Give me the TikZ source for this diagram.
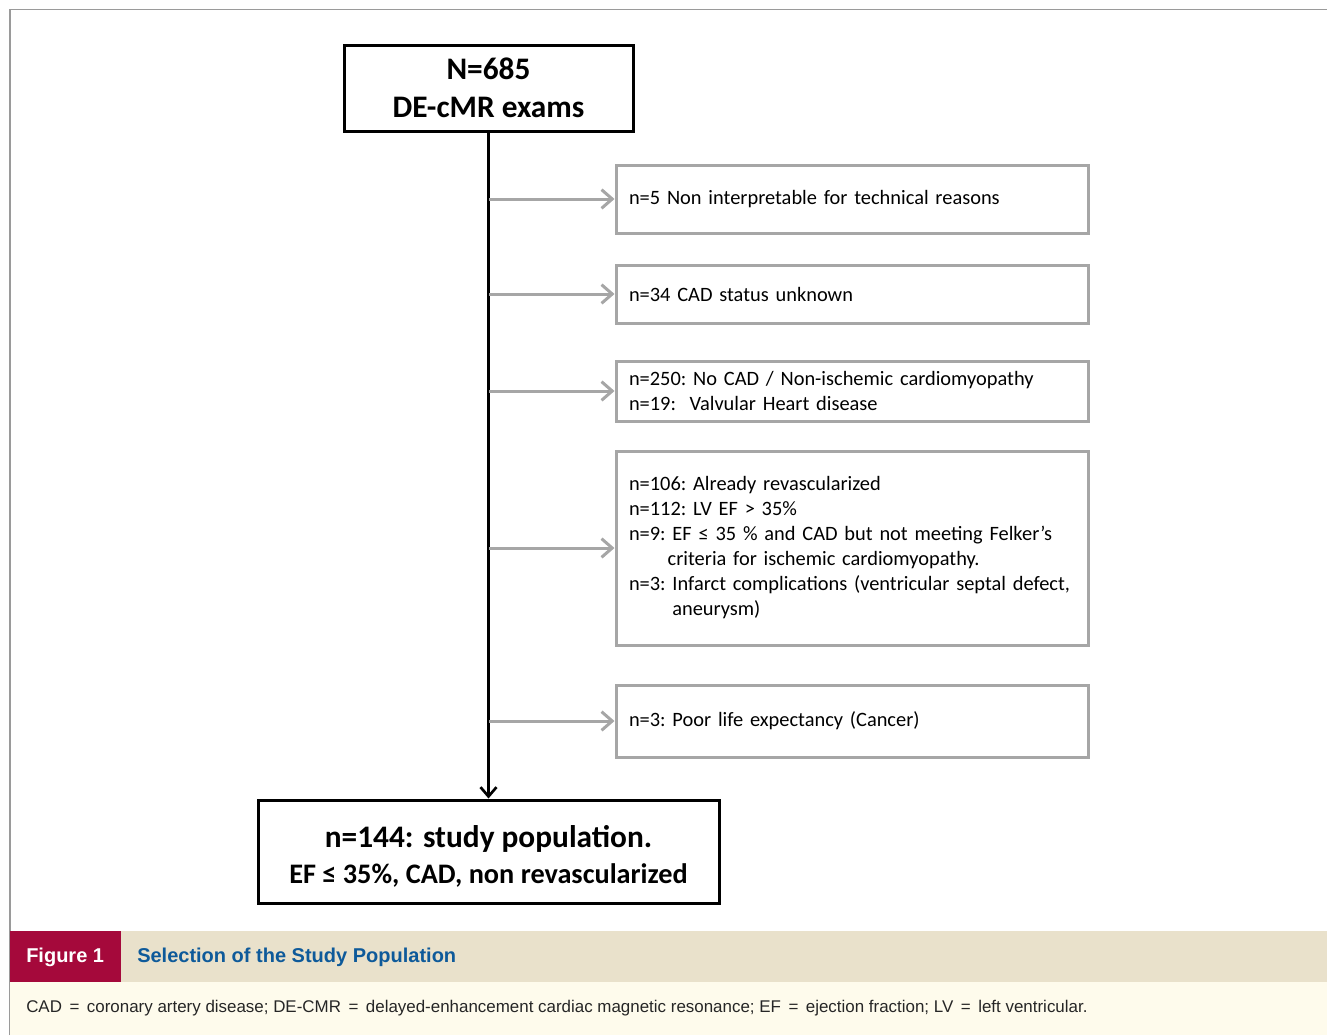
\documentclass[tikz,border=0pt]{standalone}
\usepackage{fontspec}
\setmainfont{Carlito}
\newfontfamily\capfont{Liberation Sans}
\usetikzlibrary{arrows.meta}
\definecolor{boxgray}{HTML}{A6A6A6}
\definecolor{framegray}{HTML}{9A9A9A}
\definecolor{figred}{HTML}{A5093B}
\definecolor{figblue}{HTML}{0E5A9A}
\definecolor{bandbeige}{HTML}{E9E1CB}
\definecolor{bandcream}{HTML}{FEFBEC}
\tikzset{
  mainbox/.style={draw=black, line width=2.25pt, align=center, inner sep=0pt},
  excl/.style={draw=boxgray, line width=2.25pt, minimum width=354pt, text width=334.5pt,
    align=left, inner xsep=9.75pt, inner ysep=0pt, font=\frenchspacing\fontsize{15.3}{18.75}\selectfont},
  flow/.style={line width=2.25pt, -{Straight Barb[length=7pt,width=12pt,line width=2pt]}},
  side/.style={draw=boxgray, line width=2.25pt, -{Straight Barb[length=8pt,width=14pt,line width=2.25pt]}}
}
\begin{document}
\begin{tikzpicture}[x=0.75pt,y=-0.75pt]
\useasboundingbox (0,0) rectangle (1327,1035);
% frame
\draw[framegray, line width=0.9pt] (10,1035) -- (10,9.5) -- (1327,9.5);
% caption bands
\fill[bandbeige] (10,931) rectangle (1327,982);
\fill[figred] (10,931) rectangle (121,982);
\fill[bandcream] (10,982) rectangle (1327,1035);
\node[font=\capfont\bfseries\fontsize{15}{17}\selectfont, text=white, anchor=west, inner sep=0pt] (figlab) at (26,957) {Figure 1};
\node[font=\capfont\bfseries\fontsize{15}{17}\selectfont, text=figblue, anchor=west, inner sep=0pt] (figtitle) at (137,957) {Selection of the Study Population};
\node[font=\capfont\fontsize{12.7}{14}\selectfont, text=black!85, anchor=west, inner sep=0pt] (legend) at (26,1008) {CAD \,=\, coronary artery disease; DE-CMR \,=\, delayed-enhancement cardiac magnetic resonance; EF \,=\, ejection fraction; LV \,=\, left ventricular.};
% main boxes
\node[mainbox, minimum width=216.75pt, minimum height=64.5pt, font=\bfseries\fontsize{23.5}{28.5}\selectfont] (top) at (488.5,88) {N=685\\DE-cMR exams};
\node[mainbox, minimum width=345.75pt, minimum height=77.25pt, font=\bfseries\fontsize{21.2}{27}\selectfont] (bottom) at (488.5,851.5)
  {{\fontsize{23.5}{27}\selectfont\rule{0pt}{23.5pt}n=144: study population.}\\EF ≤ 35\%, CAD, non revascularized};
% exclusion boxes
\node[excl, minimum height=51pt] (e1) at (852,199) {n=5 Non interpretable for technical reasons};
\node[excl, minimum height=43.5pt] (e2) at (852,294) {n=34 CAD status unknown};
\node[excl, minimum height=45pt] (e3) at (852,391) {n=250: No CAD / Non-ischemic cardiomyopathy\\n=19:\ \ Valvular Heart disease};
\node[excl, minimum height=145.5pt] (e4) at (852,548) {n=106: Already revascularized\\n=112: LV EF > 35\%\\n=9: EF ≤ 35 \% and CAD but not meeting Felker’s\\\hspace*{29pt}criteria for ischemic cardiomyopathy.\\n=3: Infarct complications (ventricular septal defect,\\\hspace*{32.5pt}aneurysm)};
\node[excl, minimum height=54pt] (e5) at (852,721) {n=3: Poor life expectancy (Cancer)};
% connectors
\coordinate (c1) at (489,199);
\coordinate (c2) at (489,294);
\coordinate (c3) at (489,391);
\coordinate (c4) at (489,548);
\coordinate (c5) at (489,721);
\draw[flow] (top.south) -- (bottom.north);
\draw[side] (c1) -- (e1.west);
\draw[side] (c2) -- (e2.west);
\draw[side] (c3) -- (e3.west);
\draw[side] (c4) -- (e4.west);
\draw[side] (c5) -- (e5.west);
\end{tikzpicture}
\end{document}
